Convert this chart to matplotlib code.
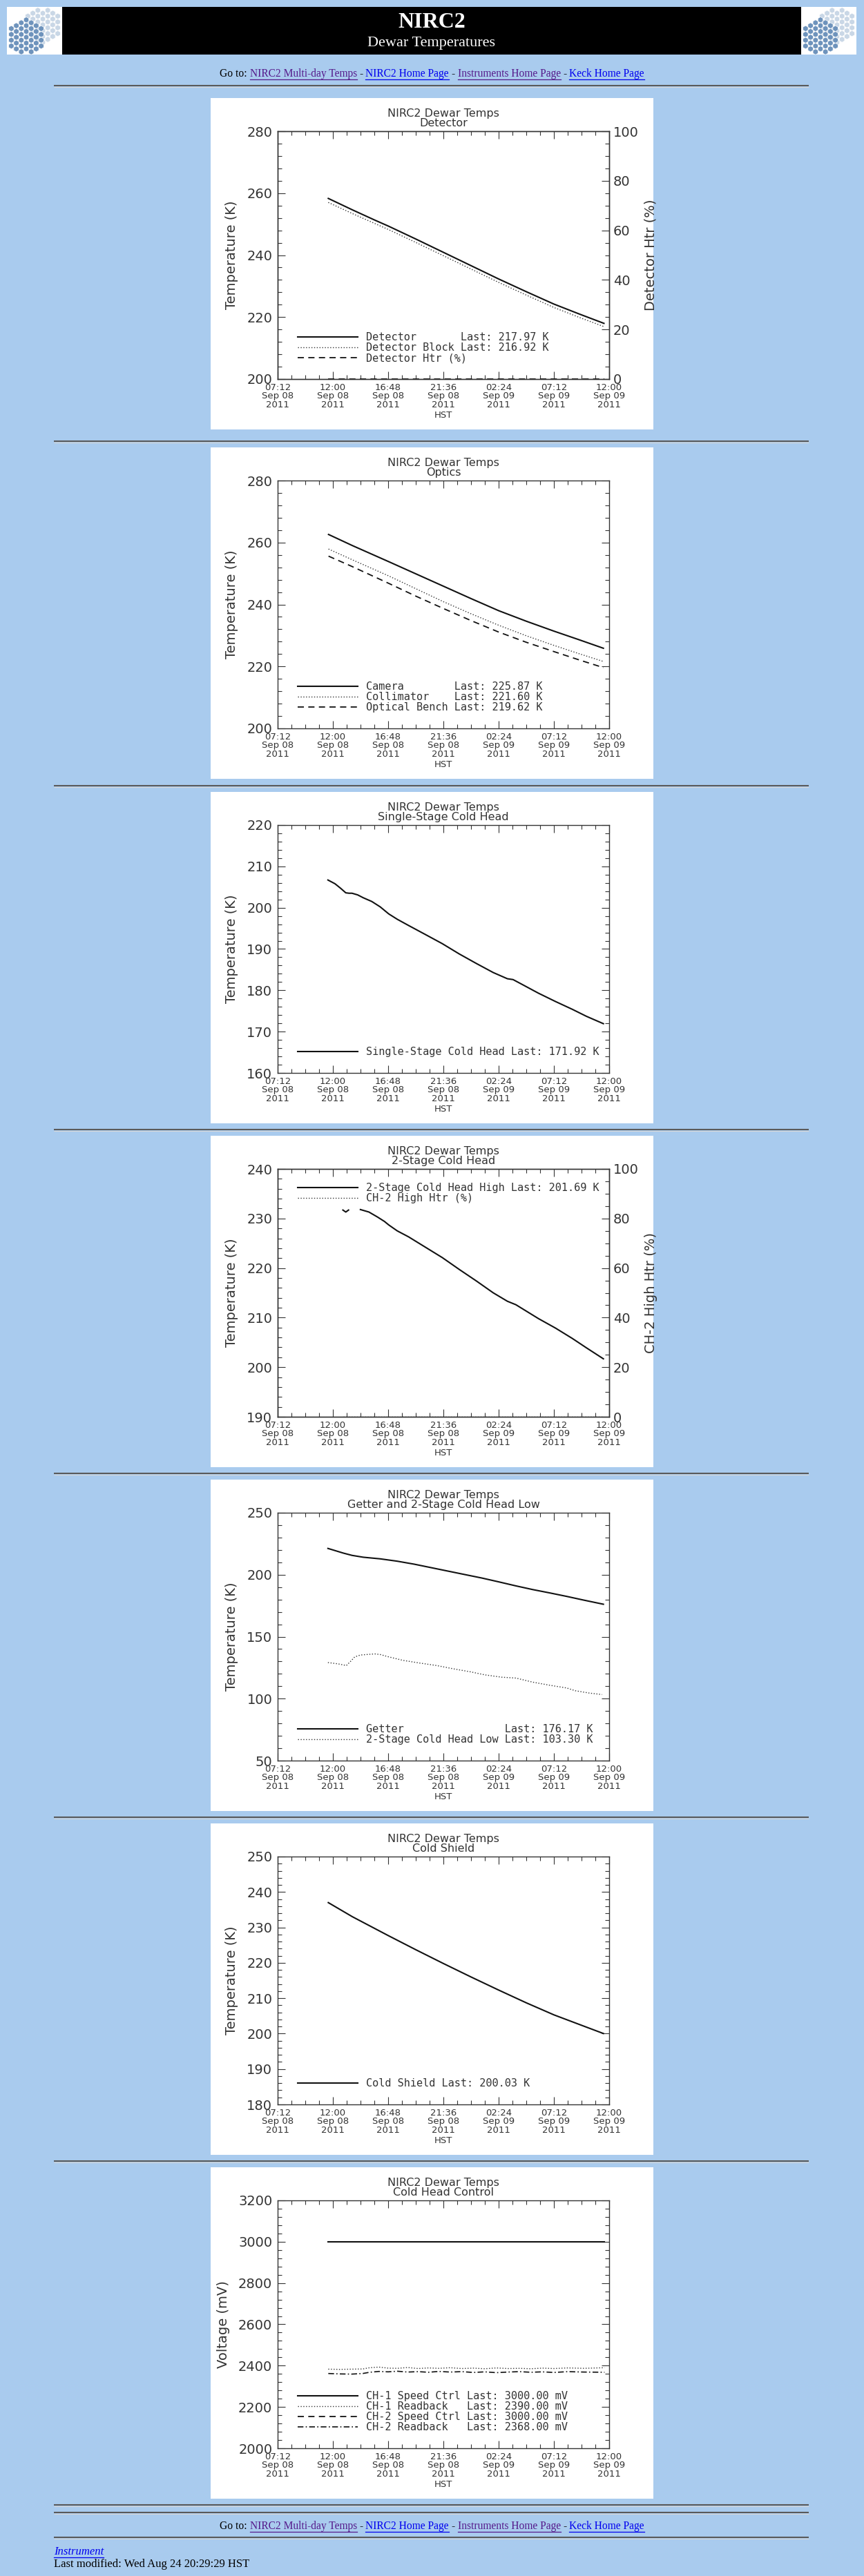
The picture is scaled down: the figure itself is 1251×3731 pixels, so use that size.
import numpy as np
import matplotlib
matplotlib.use("Agg")
import matplotlib.pyplot as plt
from matplotlib.patches import Rectangle, RegularPolygon
from matplotlib.ticker import MultipleLocator

W, H = 1251, 3731
PAGE = "#a9cbee"
INK = "#333333"

# time axis: hours after 07:12 HST, Sep 08 2011
tick_hours = [0.0, 4.8, 9.6, 14.4, 19.2, 24.0, 28.8]
tick_labels = ["07:12\nSep 08\n2011", "12:00\nSep 08\n2011", "16:48\nSep 08\n2011",
               "21:36\nSep 08\n2011", "02:24\nSep 09\n2011", "07:12\nSep 09\n2011",
               "12:00\nSep 09\n2011"]

# Detector
det_hours = [4.4, 6.5, 8.5, 9.6, 12.0, 14.4, 16.8, 19.2, 21.6, 24.0, 26.2, 28.35]
det_temp = [258.3, 254.6, 251.2, 249.4, 245.2, 240.9, 236.6, 232.3, 228.2, 224.2, 221.0, 217.97]
det_block = [257.0, 253.4, 250.1, 248.3, 244.1, 239.8, 235.5, 231.2, 227.1, 223.1, 219.9, 216.92]
det_htr_hours = [4.4, 28.35]
det_htr = [0.0, 0.0]

# Optics
opt_hours = [4.42, 6.5, 9.6, 12.0, 14.4, 16.8, 19.2, 21.6, 24.0, 26.2, 28.3]
camera = [262.6, 259.0, 253.9, 249.9, 245.9, 241.9, 238.0, 234.6, 231.4, 228.6, 225.87]
collimator = [257.9, 254.4, 249.3, 245.1, 240.9, 237.0, 233.3, 229.9, 226.8, 224.1, 221.60]
bench = [255.6, 252.2, 246.9, 242.7, 238.7, 234.8, 231.1, 227.8, 224.8, 222.1, 219.62]

# Single-stage cold head
ch1_hours = [4.37, 4.98, 5.47, 5.92, 6.2, 6.46, 6.95, 7.44, 8.18, 8.91, 9.65, 10.39, 11.37,
             12.84, 14.3, 15.78, 17.26, 18.73, 19.96, 20.45, 21.19, 22.66, 24.13, 25.6, 26.83, 28.3]
ch1_temp = [206.7, 205.8, 204.7, 203.6, 203.5, 203.5, 203.1, 202.4, 201.5, 200.2, 198.5, 197.2, 195.7,
            193.5, 191.3, 188.8, 186.5, 184.3, 182.8, 182.6, 181.5, 179.3, 177.3, 175.4, 173.7, 171.92]

# 2-stage cold head (high)
ch2_hours = [5.67, 5.92, 6.16, np.nan, 7.19, 7.93, 8.67, 9.28, 9.65, 10.39, 11.37, 12.84, 14.31,
             15.79, 17.26, 18.73, 19.96, 20.7, 22.66, 24.13, 25.6, 26.83, 28.3]
ch2_temp = [231.7, 231.3, 231.7, np.nan, 231.8, 231.3, 230.3, 229.4, 228.7, 227.5, 226.3, 224.2, 222.1,
            219.7, 217.4, 215.0, 213.3, 212.6, 209.8, 207.9, 205.8, 203.9, 201.69]
ch2_htr_hours = [5.67, 28.3]
ch2_htr = [0.0, 0.0]

# Getter and 2-stage cold head low
getter_hours = [4.37, 5.72, 6.46, 7.44, 8.91, 10.39, 11.86, 13.33, 14.8, 16.27, 17.75, 19.22,
                20.69, 22.16, 23.64, 25.11, 26.59, 28.3]
getter = [221.2, 217.4, 215.6, 214.1, 212.8, 210.9, 208.5, 205.7, 202.9, 200.1, 197.3, 194.2,
          191.0, 188.0, 185.3, 182.5, 179.5, 176.17]
low_hours = [4.37, 5.23, 5.97, 6.33, 6.7, 7.19, 8.43, 8.91, 9.65, 10.88, 12.35, 13.82, 15.3,
             16.77, 17.99, 19.47, 20.7, 22.16, 23.64, 25.11, 25.85, 27.07, 28.18]
low = [129.1, 128.1, 126.7, 130.0, 133.7, 135.2, 136.1, 135.6, 133.7, 130.9, 128.7, 126.7, 124.0,
       121.6, 119.2, 117.3, 116.6, 113.3, 110.8, 108.6, 106.4, 104.5, 103.30]

# Cold shield
shield_hours = [4.4, 6.5, 9.6, 12.0, 14.4, 16.8, 19.2, 21.6, 24.0, 26.2, 28.3]
shield = [237.0, 233.0, 227.7, 223.7, 219.8, 216.0, 212.3, 208.7, 205.3, 202.6, 200.03]

# Cold head control
ctrl_hours = [4.4, 28.4]
ch1_speed = [3000.0, 3000.0]
ch2_speed = [3000.0, 3000.0]
rb_hours = [4.4, 5.4, 6.4, 7.4, 8.0, 8.8, 9.6, 10.4, 11.3, 12.2, 13.1, 14.0, 15.0, 16.0, 17.0,
            18.0, 19.0, 20.0, 21.0, 22.0, 23.0, 24.0, 25.2, 26.6, 28.4]
ch1_rb = [2383, 2382, 2383, 2384, 2390, 2393, 2388, 2387, 2391, 2386, 2389, 2387, 2390, 2386, 2388,
          2385, 2389, 2386, 2387, 2385, 2388, 2386, 2389, 2387, 2390]
ch2_rb = [2362, 2360, 2359, 2362, 2368, 2372, 2370, 2373, 2369, 2371, 2368, 2372, 2369, 2371, 2367,
          2370, 2366, 2369, 2371, 2368, 2370, 2367, 2371, 2369, 2368]

panel_tops = [142, 648, 1147, 1645, 2143, 2641, 3139]
rules = [124, 639, 1138, 1636, 2134, 2632, 3130, 3628, 3639, 3675]

solid = dict(color="#111111", lw=1.5)
dotted = dict(color="#333333", lw=1.0, dashes=(1, 1.8))
dashed = dict(color="#111111", lw=1.3, dashes=(5, 3.5))
dashdot = dict(color="#111111", lw=1.2, dashes=(5, 2, 1, 2))

fig = plt.figure(figsize=(W / 100, H / 100), dpi=100, facecolor=PAGE)
page = fig.add_axes([0, 0, 1, 1])
page.set_xlim(0, W)
page.set_ylim(H, 0)
page.axis("off")


def draw_logo(x0):
    page.add_patch(Rectangle((x0, 10), 80, 69, facecolor="white", edgecolor="none"))
    for cx, cy, col in [(x0 + 52, 36, "#c9d7e6"), (x0 + 28, 54, "#6e93bc")]:
        for i in range(-4, 5):
            for j in range(-4, 5):
                hx = cx + i * 7.2
                hy = cy + j * 8.4 + (i % 2) * 4.2
                if (hx - cx) ** 2 + (hy - cy) ** 2 > 27 ** 2:
                    continue
                if hx < x0 + 3 or hx > x0 + 77 or hy < 13 or hy > 76:
                    continue
                page.add_patch(RegularPolygon((hx, hy), 6, radius=4.3, facecolor=col,
                                              edgecolor="white", lw=0.5))


page.add_patch(Rectangle((90, 10), 1070, 69, facecolor="black", edgecolor="none"))
draw_logo(10)
draw_logo(1160)
page.text(625, 33, "NIRC2", color="white", fontsize=23, fontweight="bold",
          family="Liberation Serif", ha="center", va="center")
page.text(625, 62, "Dewar Temperatures", color="white", fontsize=16,
          family="Liberation Serif", ha="center", va="center")

for y in rules:
    page.plot([78, 1171], [y, y], color="#5a5a5a", lw=1.5, solid_capstyle="butt")
    page.plot([78, 1171], [y + 1.6, y + 1.6], color="#d6d6d6", lw=0.8, solid_capstyle="butt")

renderer = fig.canvas.get_renderer()


def link_line(y):
    segs = [("Go to:", "black", False), ("NIRC2 Multi-day Temps", "#551a8b", True), ("-", "black", False),
            ("NIRC2 Home Page", "#0000ee", True), ("-", "black", False),
            ("Instruments Home Page", "#551a8b", True), ("-", "black", False),
            ("Keck Home Page", "#0000ee", True)]
    gap = 3.8
    items = []
    for s, c, link in segs:
        t = page.text(0, y, s, color=c, fontsize=11.2, family="Liberation Serif", ha="left", va="center")
        items.append((t, t.get_window_extent(renderer).width, c, link))
    total = sum(w for _, w, _, _ in items) + gap * (len(items) - 1)
    x = 625.5 - total / 2
    for t, w, c, link in items:
        t.set_x(x)
        if link:
            page.plot([x, x + w], [y + 8, y + 8], color=c, lw=0.9)
        x += w + gap


link_line(107)
link_line(3659)
t = page.text(78, 3696, "Instrument", color="#0000ee", fontsize=12, style="italic",
              family="Liberation Serif", ha="left", va="center")
wi = t.get_window_extent(renderer).width
page.plot([78, 78 + wi], [3704, 3704], color="#0000ee", lw=0.9)
page.text(78, 3714, "Last modified: Wed Aug 24 20:29:29 HST", color="black", fontsize=12,
          family="Liberation Serif", ha="left", va="center")


def panel(top, subtitle, ylim, major, minor, ylabel, mirror=True):
    bg = Rectangle((305, top), 641, 480, facecolor="white", edgecolor="none")
    page.add_patch(bg)
    ax = fig.add_axes([402 / W, 1 - (top + 48 + 359) / H, 480 / W, 359 / H])
    ax.set_xlim(0, 28.8)
    ax.set_ylim(*ylim)
    ax.set_xticks(tick_hours)
    ax.set_xticklabels(tick_labels, fontsize=9.5, linespacing=0.92)
    ax.xaxis.set_minor_locator(MultipleLocator(1.2))
    ax.yaxis.set_major_locator(MultipleLocator(major))
    ax.yaxis.set_minor_locator(MultipleLocator(minor))
    ax.tick_params(which="both", direction="in", top=True, right=mirror, color=INK, width=0.8)
    ax.tick_params(which="major", length=8)
    ax.tick_params(which="minor", length=4.3)
    ax.tick_params(axis="y", labelsize=14, pad=5.5, labelcolor=INK)
    ax.tick_params(axis="x", pad=4.5, labelcolor=INK)
    for s in ax.spines.values():
        s.set_color(INK)
        s.set_linewidth(1.0)
    ax.set_title("NIRC2 Dewar Temps\n" + subtitle, fontsize=11.5, linespacing=0.9, pad=5, color=INK)
    ax.set_xlabel("HST", fontsize=9.5, labelpad=2, color=INK)
    ax.set_ylabel(ylabel, fontsize=14, labelpad=9, color=INK)
    return ax, bg


def right_axis(ax, bg, label):
    ax2 = ax.twinx()
    ax2.set_ylim(0, 100)
    ax2.yaxis.set_major_locator(MultipleLocator(20))
    ax2.yaxis.set_minor_locator(MultipleLocator(5))
    ax2.tick_params(which="both", direction="in", color=INK, width=0.8, labelsize=14,
                    pad=4.3, labelcolor=INK)
    ax2.tick_params(which="major", length=8)
    ax2.tick_params(which="minor", length=4.3)
    for s in ax2.spines.values():
        s.set_color(INK)
        s.set_linewidth(1.0)
    top = bg.get_y()
    t = page.text(942, top + 48 + 179.5, label, rotation=90, ha="center", va="center",
                  fontsize=14, color=INK)
    t.set_clip_path(bg)
    return ax2


def lab(name, pad, last, unit):
    return name.ljust(pad) + " Last: " + f"{last:.2f} {unit}"


def legend(ax, handles, labels, upper=False):
    if upper:
        kw = dict(loc="upper left", bbox_to_anchor=(0.06, 0.944))
    else:
        kw = dict(loc="lower left", bbox_to_anchor=(0.06, 0.064))
    ax.legend(handles, labels, frameon=False, handlelength=5.7, handletextpad=0.8,
              labelspacing=0.0, borderpad=0, borderaxespad=0, labelcolor=INK,
              prop=dict(family="DejaVu Sans Mono", size=11), **kw)


# 1 Detector
ax, bg = panel(panel_tops[0], "Detector", (200, 280), 20, 4, "Temperature (K)", mirror=False)
ax2 = right_axis(ax, bg, "Detector Htr (%)")
l1, = ax.plot(det_hours, det_temp, **solid)
l2, = ax.plot(det_hours, det_block, **dotted)
l3, = ax2.plot(det_htr_hours, det_htr, **dashed)
legend(ax2, [l1, l2, l3], [lab("Detector", 14, det_temp[-1], "K"),
                           lab("Detector Block", 14, det_block[-1], "K"), "Detector Htr (%)"])

# 2 Optics
ax, bg = panel(panel_tops[1], "Optics", (200, 280), 20, 4, "Temperature (K)")
l1, = ax.plot(opt_hours, camera, **solid)
l2, = ax.plot(opt_hours, collimator, **dotted)
l3, = ax.plot(opt_hours, bench, **dashed)
legend(ax, [l1, l2, l3], [lab("Camera", 13, camera[-1], "K"), lab("Collimator", 13, collimator[-1], "K"),
                          lab("Optical Bench", 13, bench[-1], "K")])

# 3 Single-stage cold head
ax, bg = panel(panel_tops[2], "Single-Stage Cold Head", (160, 220), 10, 2, "Temperature (K)")
l1, = ax.plot(ch1_hours, ch1_temp, **solid)
legend(ax, [l1], [lab("Single-Stage Cold Head", 22, ch1_temp[-1], "K")])

# 4 2-stage cold head
ax, bg = panel(panel_tops[3], "2-Stage Cold Head", (190, 240), 10, 2, "Temperature (K)", mirror=False)
ax2 = right_axis(ax, bg, "CH-2 High Htr (%)")
l1, = ax.plot(ch2_hours, ch2_temp, **solid)
l2, = ax2.plot(ch2_htr_hours, ch2_htr, **dotted)
legend(ax2, [l1, l2], [lab("2-Stage Cold Head High", 22, ch2_temp[-1], "K"), "CH-2 High Htr (%)"],
       upper=True)

# 5 Getter
ax, bg = panel(panel_tops[4], "Getter and 2-Stage Cold Head Low", (50, 250), 50, 10, "Temperature (K)")
l1, = ax.plot(getter_hours, getter, **solid)
l2, = ax.plot(low_hours, low, **dotted)
legend(ax, [l1, l2], [lab("Getter", 21, getter[-1], "K"), lab("2-Stage Cold Head Low", 21, low[-1], "K")])

# 6 Cold shield
ax, bg = panel(panel_tops[5], "Cold Shield", (180, 250), 10, 2, "Temperature (K)")
l1, = ax.plot(shield_hours, shield, **solid)
legend(ax, [l1], [lab("Cold Shield", 11, shield[-1], "K")])

# 7 Cold head control
ax, bg = panel(panel_tops[6], "Cold Head Control", (2000, 3200), 200, 40, "Voltage (mV)")
l3, = ax.plot(ctrl_hours, ch2_speed, **dashed)
l1, = ax.plot(ctrl_hours, ch1_speed, **solid)
l2, = ax.plot(rb_hours, ch1_rb, **dotted)
l4, = ax.plot(rb_hours, ch2_rb, **dashdot)
legend(ax, [l1, l2, l3, l4], [lab("CH-1 Speed Ctrl", 15, ch1_speed[-1], "mV"),
                              lab("CH-1 Readback", 15, ch1_rb[-1], "mV"),
                              lab("CH-2 Speed Ctrl", 15, ch2_speed[-1], "mV"),
                              lab("CH-2 Readback", 15, ch2_rb[-1], "mV")])

fig.savefig("out.png", dpi=100, facecolor=PAGE)
